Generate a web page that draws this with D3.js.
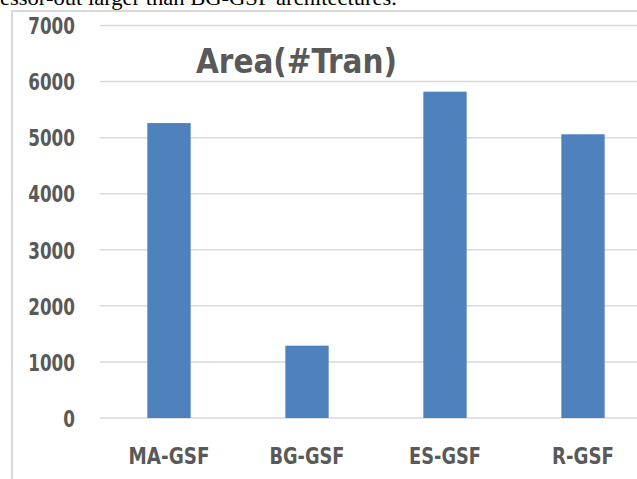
<!DOCTYPE html>
<html><head><meta charset="utf-8">
<script src="https://cdn.jsdelivr.net/npm/d3@7"></script>
<style>html,body{margin:0;padding:0;background:#fff;overflow:hidden}</style>
</head><body>
<script>
const categories = ["MA-GSF", "BG-GSF", "ES-GSF", "R-GSF"];
const values = [5260, 1290, 5820, 5060];
const yTicks = [0, 1000, 2000, 3000, 4000, 5000, 6000, 7000];
const title = "Area(#Tran)";
const captionText = "essor-out larger than BG-GSF architectures.";

const W = 637, H = 479;
const svg = d3.select("body").append("svg").attr("width", W).attr("height", H);
const cond = "'Liberation Sans Narrow','DejaVu Sans Condensed','Roboto Condensed',Arial,sans-serif";

// cropped caption text from page above
svg.append("text").attr("x", 0).attr("y", 5)
  .attr("font-family", "'Liberation Serif','Times New Roman',serif")
  .attr("font-size", 21).attr("fill", "#000")
  .attr("textLength", 397).attr("lengthAdjust", "spacingAndGlyphs")
  .text(captionText);

// chart frame
svg.append("path").attr("d", `M12,${H+5} L12,11 L${W+5},11`)
  .attr("fill", "none").attr("stroke", "#d9d9d9").attr("stroke-width", 2);

const x = d3.scaleBand().domain(categories).range([100, 652])
  .paddingInner(0.686).paddingOuter(0.343);
const y = d3.scaleLinear().domain([0, 7000]).range([418, 25.5]);

// gridlines
svg.append("g").selectAll("line").data(yTicks).join("line")
  .attr("x1", 100).attr("x2", W + 5)
  .attr("y1", d => y(d)).attr("y2", d => y(d))
  .attr("stroke", "#d9d9d9").attr("stroke-width", 1.5);

// y axis labels
const ya = svg.append("g").attr("transform", "translate(75,0)")
  .call(d3.axisLeft(y).tickValues(yTicks).tickSize(0).tickPadding(0).tickFormat(d3.format("d")));
ya.select(".domain").remove();
ya.selectAll("text")
  .attr("font-family", cond).attr("font-weight", "bold").attr("font-size", 23)
  .attr("fill", "#595959").attr("dy", "0.36em")
  .each(function(d){ const s = String(d); d3.select(this).attr("textLength", s.length * 11.7).attr("lengthAdjust", "spacingAndGlyphs"); });

// bars
svg.append("g").selectAll("rect").data(values).join("rect")
  .attr("x", (d, i) => x(categories[i]))
  .attr("width", x.bandwidth())
  .attr("y", d => y(d))
  .attr("height", d => y(0) - y(d))
  .attr("fill", "#4f81bd");

// x axis labels
const xa = svg.append("g").attr("transform", "translate(0,464)")
  .call(d3.axisBottom(x).tickSize(0).tickPadding(0));
xa.select(".domain").remove();
const labelW = {"MA-GSF": 81, "BG-GSF": 75, "ES-GSF": 72, "R-GSF": 62};
xa.selectAll("text")
  .attr("font-family", cond).attr("font-weight", "bold").attr("font-size", 23)
  .attr("fill", "#595959").attr("dy", 0).attr("y", 0)
  .attr("textLength", d => labelW[d]).attr("lengthAdjust", "spacingAndGlyphs");

// title
svg.append("text").attr("x", 196).attr("y", 72.5)
  .attr("font-family", cond).attr("font-weight", "bold").attr("font-size", 34)
  .attr("fill", "#595959")
  .attr("textLength", 201).attr("lengthAdjust", "spacingAndGlyphs")
  .text(title);
</script>
</body></html>
